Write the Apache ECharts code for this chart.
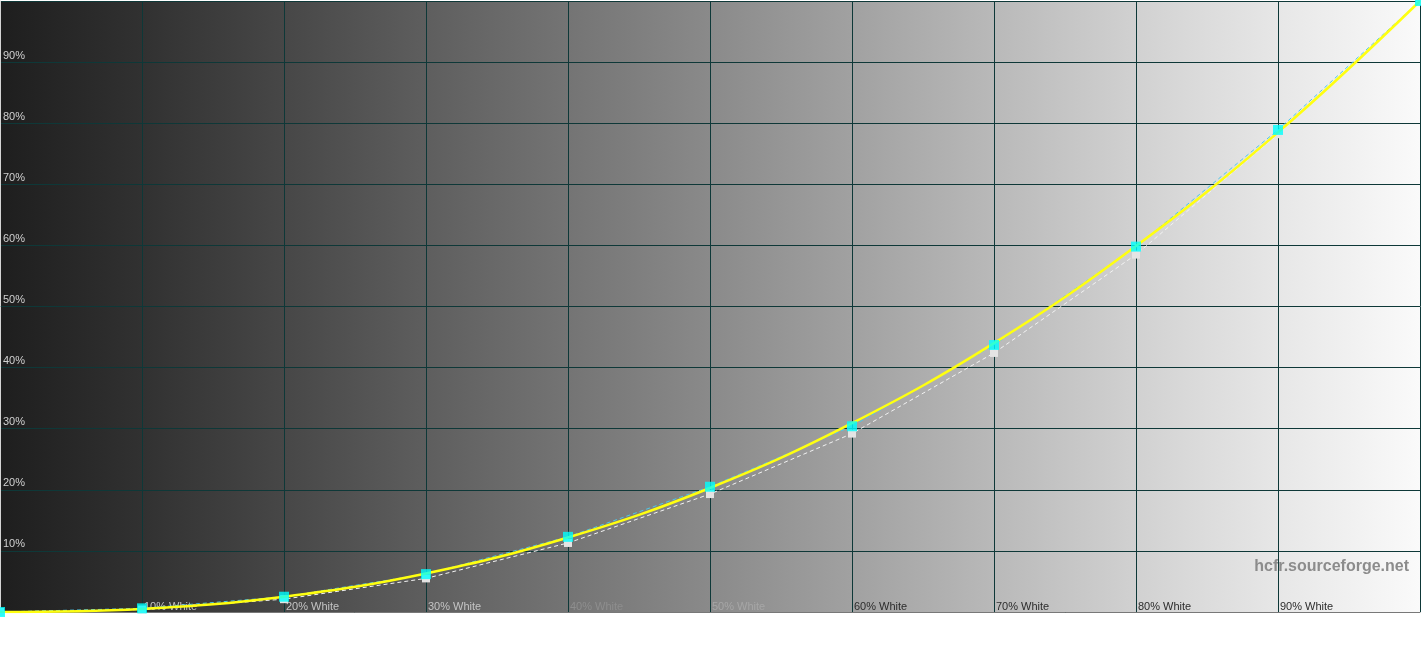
<!DOCTYPE html>
<html>
<head>
<meta charset="utf-8">
<script src="https://cdn.jsdelivr.net/npm/echarts/dist/echarts.min.js"></script>
<style>
  html, body { margin: 0; padding: 0; background: #fff; }
  #chart { width: 1421px; height: 651px; }
</style>
</head>
<body>
<div id="chart"></div>
<script>
// stimulus levels (% white)
var levels = [0, 10, 20, 30, 40, 50, 60, 70, 80, 90, 100];
// reference gamma curve (yellow)
var gammaRef = [0, 0.5, 2.5, 6.3, 12.2, 20.3, 30.9, 44.0, 59.9, 78.5, 100];
// measured, cyan squares
var measured = [0, 0.6, 2.5, 6.2, 12.3, 20.5, 30.4, 43.7, 59.8, 78.9, 100];
// luminance, grey squares
var luma = [0, 0.4, 2.1, 5.5, 11.3, 19.3, 29.2, 42.4, 58.5, 78.2, 100];
// axis label texts
var xTickLabels = ['', '10% White', '20% White', '30% White', '40% White', '50% White',
    '60% White', '70% White', '80% White', '90% White', ''];
var yTickLabels = ['', '10%', '20%', '30%', '40%', '50%', '60%', '70%', '80%', '90%', ''];

function pairs(ys) {
    return levels.map(function (x, i) { return [x, ys[i]]; });
}

var chart = echarts.init(document.getElementById('chart'));
var font = '"Liberation Sans", Arial, sans-serif';

var option = {
    animation: false,
    backgroundColor: '#ffffff',
    textStyle: { fontFamily: font },
    grid: {
        left: 0, right: 1, top: 1, bottom: 39,
        containLabel: false,
        outerBoundsMode: 'none',
        show: true,
        borderWidth: 0,
        backgroundColor: {
            type: 'linear', x: 0, y: 0, x2: 1, y2: 0,
            colorStops: [
                { offset: 0, color: '#1e1e1e' },
                { offset: 0.1, color: '#313131' },
                { offset: 0.2, color: '#474747' },
                { offset: 0.3, color: '#5e5e5e' },
                { offset: 0.4, color: '#747474' },
                { offset: 0.5, color: '#8a8a8a' },
                { offset: 0.6, color: '#a1a1a1' },
                { offset: 0.7, color: '#b9b9b9' },
                { offset: 0.8, color: '#d1d1d1' },
                { offset: 0.9, color: '#e7e7e7' },
                { offset: 1, color: '#fafafa' }
            ]
        }
    },
    xAxis: [{
        type: 'value',
        min: 0, max: 100, interval: 10,
        axisLine: { show: false },
        axisTick: { show: false },
        splitLine: { lineStyle: { color: '#0e3838', width: 1 } },
        axisLabel: {
            inside: true,
            margin: 0,
            align: 'left',
            verticalAlign: 'bottom',
            padding: [0, 0, 0, 2],
            formatter: function (v) {
                var t = xTickLabels[Math.round(v / 10)];
                if (!t) return '';
                var k = v <= 30 ? 'lt' : (v === 40 ? 'm1' : (v === 50 ? 'm2' : 'dk'));
                return '{' + k + '|' + t + '}';
            },
            rich: {
                lt: { color: '#c4c4c4', fontSize: 11, fontFamily: font },
                m1: { color: '#8e8e8e', fontSize: 11, fontFamily: font },
                m2: { color: '#a6a6a6', fontSize: 11, fontFamily: font },
                dk: { color: '#2c2c2c', fontSize: 11, fontFamily: font }
            }
        }
    }, {
        // top frame line
        type: 'value',
        position: 'top',
        min: 0, max: 100,
        axisLine: { show: true, lineStyle: { color: '#787878', width: 1 } },
        axisTick: { show: false },
        axisLabel: { show: false },
        splitLine: { show: false }
    }],
    yAxis: [{
        type: 'value',
        min: 0, max: 100, interval: 10,
        axisLine: { show: false },
        axisTick: { show: false },
        splitLine: { lineStyle: { color: '#0e3838', width: 1 } },
        axisLabel: {
            inside: true,
            margin: 3,
            align: 'left',
            verticalAlign: 'bottom',
            padding: [0, 0, 1, 0],
            color: '#d0d0d0',
            fontSize: 11,
            fontFamily: font,
            formatter: function (v) { return yTickLabels[Math.round(v / 10)]; }
        }
    }, {
        // right frame line
        type: 'value',
        position: 'right',
        min: 0, max: 100,
        axisLine: { show: true, lineStyle: { color: '#d4d4d4', width: 1 } },
        axisTick: { show: false },
        axisLabel: { show: false },
        splitLine: { show: false }
    }],
    graphic: [{
        type: 'text',
        right: 12,
        bottom: 76,
        style: {
            text: 'hcfr.sourceforge.net',
            fill: '#8c8c8c',
            font: 'bold 16px ' + font
        }
    }],
    series: [
        {
            name: 'Luminance',
            type: 'line',
            data: pairs(luma),
            z: 2,
            symbol: 'rect',
            symbolSize: 8,
            itemStyle: { color: '#e4e4e4' },
            lineStyle: { color: '#f2f2f2', width: 1, type: [4, 3] }
        },
        {
            name: 'Measured',
            type: 'line',
            data: pairs(measured),
            z: 3,
            showSymbol: false,
            lineStyle: { color: '#4cc8e8', width: 1, type: [4, 3] }
        },
        {
            name: 'Reference',
            type: 'line',
            data: pairs(gammaRef),
            z: 4,
            smooth: 0.4,
            showSymbol: false,
            lineStyle: { color: '#ffff10', width: 2.5 }
        },
        {
            name: 'Measured points',
            type: 'scatter',
            data: pairs(measured),
            z: 5,
            symbol: 'rect',
            symbolSize: 10,
            itemStyle: { color: '#00ffff' }
        }
    ]
};
chart.setOption(option);
</script>
</body>
</html>
